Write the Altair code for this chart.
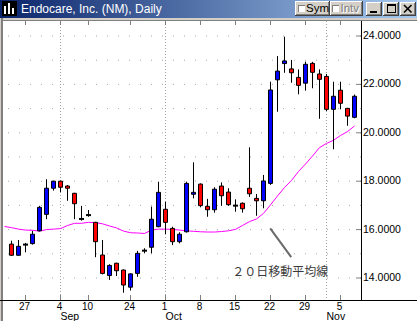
import altair as alt
import pandas as pd

# ---------------- data ----------------
dates = ["2001-08-23","2001-08-24","2001-08-27","2001-08-28","2001-08-29","2001-08-30","2001-08-31",
         "2001-09-04","2001-09-05","2001-09-06","2001-09-07","2001-09-10",
         "2001-09-17","2001-09-18","2001-09-19","2001-09-20","2001-09-21",
         "2001-09-24","2001-09-25","2001-09-26","2001-09-27","2001-09-28",
         "2001-10-01","2001-10-02","2001-10-03","2001-10-04","2001-10-05",
         "2001-10-08","2001-10-09","2001-10-10","2001-10-11","2001-10-12",
         "2001-10-15","2001-10-16","2001-10-17","2001-10-18","2001-10-19",
         "2001-10-22","2001-10-23","2001-10-24","2001-10-25","2001-10-26",
         "2001-10-29","2001-10-30","2001-10-31","2001-11-01","2001-11-02",
         "2001-11-05","2001-11-06","2001-11-07"]
opens = [15.40,14.94,15.38,15.42,15.95,16.63,17.71,18.00,17.80,17.50,16.44,16.60,16.30,14.95,14.10,14.61,14.33,13.62,14.19,15.13,
         15.27,16.12,16.84,16.05,15.50,15.91,17.46,17.88,16.96,16.82,17.80,17.55,16.99,17.09,17.71,17.29,17.19,17.91,22.19,22.86,
         22.64,22.29,22.05,22.87,22.43,22.33,20.97,21.76,21.01,20.64]
highs = [15.54,15.57,15.45,15.95,16.98,18.08,18.02,18.02,17.84,17.52,16.98,16.81,16.32,15.57,14.57,14.63,14.35,14.19,15.12,15.23,
         16.95,17.98,17.15,16.12,15.89,17.98,18.78,17.91,17.27,17.75,17.95,17.71,17.25,17.12,19.40,17.47,18.26,22.11,23.17,23.97,
         23.01,22.62,22.94,22.93,22.62,22.43,22.11,22.11,21.03,21.58]
lows = [14.92,14.92,15.06,15.38,15.92,16.43,17.61,17.55,17.19,16.43,16.37,16.53,14.86,14.15,13.92,14.08,13.39,13.48,14.05,15.02,
        15.02,16.10,15.82,15.36,15.43,15.88,17.29,16.92,16.53,16.70,16.98,16.98,16.74,16.70,17.35,16.57,16.88,17.85,20.87,22.48,
        22.07,21.59,21.74,21.84,20.58,20.90,19.32,20.97,20.29,20.60]
closes = [14.94,15.31,15.38,15.81,16.92,17.71,18.00,17.75,17.71,17.07,16.44,16.60,15.50,14.19,14.52,14.30,13.71,14.17,15.02,15.13,
          16.43,17.54,16.30,15.50,15.81,17.91,17.54,16.99,16.82,17.67,17.40,17.03,16.99,16.86,17.48,17.19,18.01,21.77,22.55,22.97,
          22.48,21.96,22.83,22.50,22.21,20.97,21.51,21.22,20.69,21.51]

ma_dates = ["2001-08-22"] + dates
ma20 = [16.13,16.08,16.02,15.98,15.97,15.94,16.00,16.02,16.04,16.17,16.26,16.26,16.30,16.29,16.24,16.15,16.07,15.94,15.87,15.86,
        15.84,15.98,16.02,16.02,16.01,15.98,15.95,15.93,15.91,15.90,15.90,15.92,15.95,16.01,16.17,16.33,16.44,16.67,17.02,17.39,
        17.74,18.03,18.40,18.71,19.04,19.39,19.56,19.69,19.89,20.05,20.28]

tick_dates = ["2001-08-27","2001-09-04","2001-09-10","2001-09-24","2001-10-01",
              "2001-10-08","2001-10-15","2001-10-22","2001-10-29","2001-11-05"]
tick_labels = ["27","4","10","24","1","8","15","22","29","5"]
month_dates = ["2001-09-04","2001-10-01","2001-11-01"]
month_labels = ["Sep","Oct","Nov"]
price_ticks = [14, 16, 18, 20, 22, 24]
grid_prices = [14, 15, 16, 17, 18, 19, 20, 21, 22, 23, 24]

title_text = "Endocare, Inc. (NM), Daily"
note_text = "２０日移動平均線"
note_line_dates = ["2001-10-22", "2001-10-25"]
note_line_prices = [16.05, 14.86]
note_text_at = ("2001-10-15", 14.26)

assert len(opens) == len(highs) == len(lows) == len(closes) == len(dates) == 50
assert len(ma20) == len(ma_dates)

# ---------------- tables ----------------
pos = {d: i for i, d in enumerate(ma_dates, start=-1)}
ohlc = pd.DataFrame({"date": dates, "open": opens, "high": highs, "low": lows, "close": closes})
ohlc["idx"] = ohlc["date"].map(pos)
ohlc["dir"] = ["up" if c > o else ("down" if c < o else "flat") for o, c in zip(opens, closes)]
bodies = ohlc[ohlc["dir"] != "flat"]
dojis = ohlc[ohlc["dir"] == "flat"]
ma_df = pd.DataFrame({"idx": [pos[d] for d in ma_dates], "ma": ma20})
ticks_df = pd.DataFrame({"idx": [pos[d] for d in tick_dates], "lab": tick_labels})
month_df = pd.DataFrame({"idx": [pos[d] for d in month_dates], "lab": month_labels})
grid_df = pd.DataFrame({"p": grid_prices})
ptick_df = pd.DataFrame({"p": price_ticks})
note_line_df = pd.DataFrame({"i1": [pos[note_line_dates[0]] - 0.04], "i2": [pos[note_line_dates[1]] - 0.04],
                             "p1": [note_line_prices[0]], "p2": [note_line_prices[1]]})
note_df = pd.DataFrame({"idx": [pos[note_text_at[0]] - 0.47], "p": [note_text_at[1]], "t": [note_text]})

# ---------------- geometry ----------------
W, H = 358, 279
LEFT, TOP = 3, 21
STEP = 7.0
X0 = 8.5
xs = alt.Scale(domain=[(0 - X0) / STEP, (W - X0) / STEP], nice=False, zero=False)
ys = alt.Scale(domain=[13.091, 24.620], nice=False, zero=False)
FONT = "Liberation Sans"
NOAX = None

# ---------------- plot layers ----------------
grid = alt.Chart(grid_df).mark_rule(color="#a8a8a8", strokeDash=[1, 10], strokeWidth=1).encode(
    y=alt.Y("p:Q", scale=ys, axis=NOAX))
mgrid = alt.Chart(month_df).mark_rule(color="#a0a0a0", strokeDash=[1, 2], strokeWidth=1).encode(
    x=alt.X("idx:Q", scale=xs, axis=NOAX))
wtick_top = alt.Chart(ticks_df).mark_rule(color="#808080").encode(
    x=alt.X("idx:Q", scale=xs, axis=NOAX), y=alt.value(0), y2=alt.value(4))
wtick_bot = alt.Chart(ticks_df).mark_rule(color="#808080").encode(
    x=alt.X("idx:Q", scale=xs, axis=NOAX), y=alt.value(H - 5), y2=alt.value(H))
ptick = alt.Chart(ptick_df).mark_rule(color="#808080").encode(
    y=alt.Y("p:Q", scale=ys, axis=NOAX), x=alt.value(W - 5), x2=alt.value(W))

# axis labels (drawn through the scales)
ylabels = alt.Chart(ptick_df).transform_calculate(t="format(datum.p, '.4f')").mark_text(
    align="left", baseline="middle", font=FONT, fontSize=10.5, color="black").encode(
    y=alt.Y("p:Q", scale=ys, axis=NOAX), x=alt.value(W + 2), text="t:N")
xlabels = alt.Chart(ticks_df).mark_text(
    align="center", baseline="alphabetic", font=FONT, fontSize=10, color="black", dx=-1).encode(
    x=alt.X("idx:Q", scale=xs, axis=NOAX), y=alt.value(309.5 - TOP), text="lab:N")
months = alt.Chart(month_df).mark_text(align="left", baseline="alphabetic", font=FONT, fontSize=10.5,
                                        color="black").encode(
    x=alt.X("idx:Q", scale=xs, axis=NOAX), y=alt.value(320 - TOP), text="lab:N")

ma_line = alt.Chart(ma_df).mark_line(color="#ff00ff", strokeWidth=1).encode(
    x=alt.X("idx:Q", scale=xs, axis=NOAX), y=alt.Y("ma:Q", scale=ys, axis=NOAX))

wicks = alt.Chart(ohlc).mark_rule(color="black", strokeWidth=1).encode(
    x=alt.X("idx:Q", scale=xs, axis=NOAX),
    y=alt.Y("low:Q", scale=ys, axis=NOAX), y2="high:Q")

body = alt.Chart(bodies).transform_calculate(
    a="datum.idx - 2/7", b="datum.idx + 2/7").mark_rect(stroke="black", strokeWidth=1).encode(
    x=alt.X("a:Q", scale=xs, axis=NOAX), x2="b:Q",
    y=alt.Y("open:Q", scale=ys, axis=NOAX), y2="close:Q",
    color=alt.Color("dir:N", scale=alt.Scale(domain=["up", "down"], range=["#0000ff", "#ff0000"]), legend=None))

doji = alt.Chart(dojis).transform_calculate(
    a="datum.idx - 2.5/7", b="datum.idx + 2.5/7").mark_rule(color="black", strokeWidth=2).encode(
    x=alt.X("a:Q", scale=xs, axis=NOAX), x2="b:Q", y=alt.Y("close:Q", scale=ys, axis=NOAX))

note_line = alt.Chart(note_line_df).mark_rule(color="#6a6a6a", strokeWidth=2).encode(
    x=alt.X("i1:Q", scale=xs, axis=NOAX), x2="i2:Q", y=alt.Y("p1:Q", scale=ys, axis=NOAX), y2="p2:Q")
note = alt.Chart(note_df).mark_text(align="left", baseline="middle", font="Noto Sans CJK JP",
                                     fontSize=12, color="#3a3a3a").encode(
    x=alt.X("idx:Q", scale=xs, axis=NOAX), y=alt.Y("p:Q", scale=ys, axis=NOAX), text="t:N")

# ---------------- window chrome ----------------
one = pd.DataFrame({"k": [0]})


def box(x1, y1, x2, y2, color=None, fill=None):
    kw = {"fill": fill} if fill is not None else {"color": color}
    return alt.Chart(one).mark_rect(**kw).encode(
        x=alt.value(x1 - LEFT), x2=alt.value(x2 - LEFT), y=alt.value(y1 - TOP), y2=alt.value(y2 - TOP))


def seg(x1, y1, x2, y2, color="black", w=1.0):
    return alt.Chart(one).mark_rule(color=color, strokeWidth=w).encode(
        x=alt.value(x1 - LEFT), x2=alt.value(x2 - LEFT), y=alt.value(y1 - TOP), y2=alt.value(y2 - TOP))


def label(x, y, text, color="black", size=11.0, align="left"):
    return alt.Chart(one).mark_text(text=text, align=align, baseline="middle", font=FONT, fontSize=size,
                                    color=color).encode(x=alt.value(x - LEFT), y=alt.value(y - TOP))


def button(x1, y1, x2, y2):
    return [box(x1, y1, x2, y2, "#d4d0c8"),
            box(x1, y1, x2 - 1, y1 + 1, "#ffffff"), box(x1, y1, x1 + 1, y2 - 1, "#ffffff"),
            box(x1, y2 - 1, x2, y2, "#404040"), box(x2 - 1, y1, x2, y2, "#404040"),
            box(x1 + 1, y2 - 2, x2 - 1, y2 - 1, "#808080"), box(x2 - 2, y1 + 1, x2 - 1, y2 - 1, "#808080")]


grad = alt.LinearGradient(gradient="linear", x1=0, x2=1, y1=0, y2=0,
                          stops=[alt.GradientStop(color="#0a246a", offset=0),
                                 alt.GradientStop(color="#a6caf0", offset=1)])
chrome = [
    box(0, 0, 417, 18, fill=grad),
    box(0, 18, 417, 21, "#d4d0c8"),
    box(0, 18, 1, 321, "#d4d0c8"),
    box(1, 18, 3, 321, "#808080"),
    box(3, 20, 417, 21, "#808080"),
    box(361, 21, 362, 300, "#000000"),
    box(0, 300, 417, 301, "#000000"),
    # icon
    box(2, 1, 17, 16, "#000000"),
    box(4, 6, 6, 14, "#ffffff"), box(8, 3, 10, 14, "#ffffff"), box(12, 8, 14, 14, "#ffffff"),
    label(21, 9, title_text, color="white", size=12),
]
chrome += button(295, 1, 330, 16) + [box(298, 5, 305, 12, "#808080"), box(299, 6, 305, 12, "#ffffff"),
                                     label(306, 9, "Sym", size=11.5)]
chrome += button(330, 1, 363, 16) + [box(332, 5, 339, 12, "#808080"), box(333, 6, 339, 12, "#ffffff"),
                                     label(341.5, 9.5, "Intv", color="#ffffff", size=11.5),
                                     label(340.5, 8.5, "Intv", color="#808080", size=11.5)]
chrome += button(366, 2, 382, 16) + [box(370, 11, 377, 13, "#000000")]
chrome += button(383, 2, 399, 16) + [box(387, 4, 396, 13, "#000000"), box(388, 6, 395, 12, "#d4d0c8")]
chrome += button(400, 2, 416, 16) + [seg(404, 5, 411.5, 12.5, w=1.6), seg(411.5, 5, 404, 12.5, w=1.6)]

layers = [grid, mgrid, wtick_top, wtick_bot, ptick, ma_line, wicks, body, doji, note_line, note,
          ylabels, xlabels, months] + chrome

chart = alt.layer(*layers).properties(
    width=W, height=H,
    autosize=alt.AutoSizeParams(type="none"),
    padding={"left": LEFT, "top": TOP, "right": 417 - LEFT - W, "bottom": 321 - TOP - H},
    background="white",
).configure_view(strokeWidth=0)

chart.save("out.html", embed_options={"renderer": "svg", "actions": False})
